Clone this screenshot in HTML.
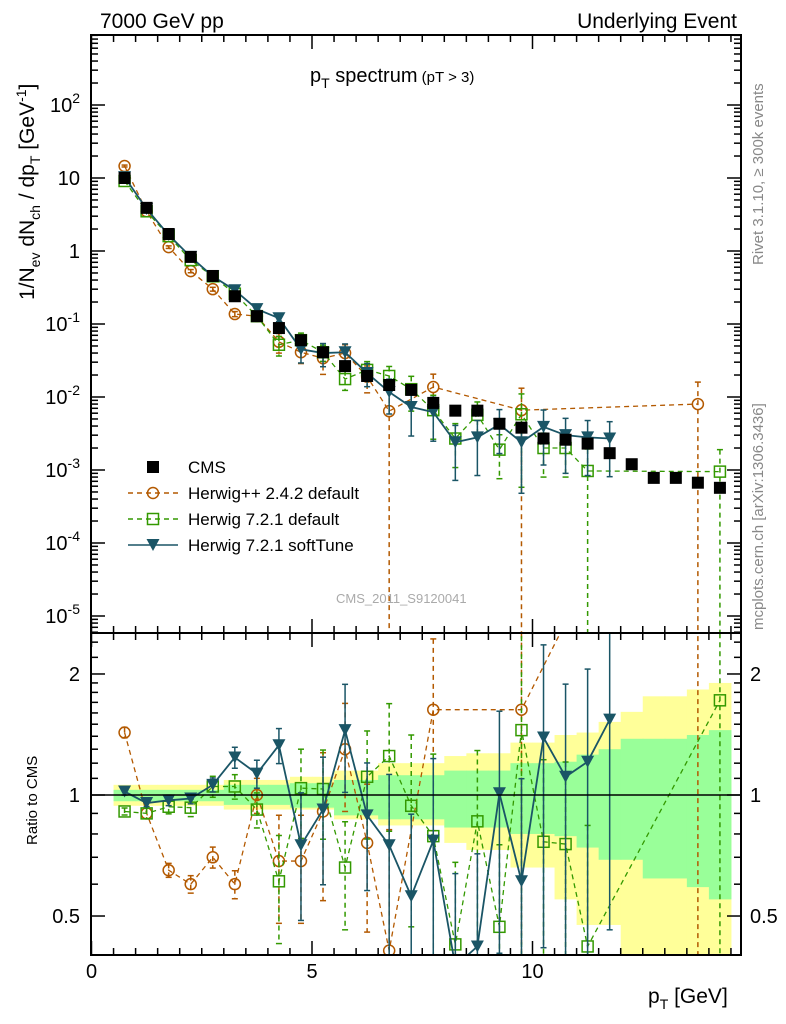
<!DOCTYPE html>
<html><head><meta charset="utf-8">
<style>
html,body{margin:0;padding:0;background:#fff;overflow:hidden;width:786px;height:1024px;}
svg{display:block;font-family:"Liberation Sans",sans-serif;}
</style></head>
<body>
<svg id="chart" width="786" height="1024" viewBox="0 0 786 1024" xmlns="http://www.w3.org/2000/svg" overflow="hidden">
<defs>
<clipPath id="clipMain"><rect x="91" y="35" width="650" height="598"/></clipPath>
<clipPath id="clipRatio"><rect x="91" y="633" width="650" height="322"/></clipPath>
</defs>
<g id="ratioBands" clip-path="url(#clipRatio)"></g>
<g id="marks"></g>
<rect x="91" y="35" width="650" height="598" fill="none" stroke="#000" stroke-width="2"/>
<rect x="91" y="633" width="650" height="322" fill="none" stroke="#000" stroke-width="2"/>
<g id="axes"></g>
<text x="100" y="28" font-size="21">7000 GeV pp</text>
<text x="737" y="28" font-size="21" text-anchor="end">Underlying Event</text>
<text x="310" y="82" font-size="20">p<tspan font-size="14" dy="6">T</tspan><tspan dy="-6"> spectrum</tspan><tspan font-size="15"> (pT &gt;  3)</tspan></text>
<text x="336" y="603" font-size="13" fill="#aaa">CMS_2011_S9120041</text>
<text transform="translate(763,265) rotate(-90)" font-size="15" fill="#888">Rivet 3.1.10, ≥ 300k events</text>
<text transform="translate(763,630) rotate(-90)" font-size="15" fill="#888">mcplots.cern.ch [arXiv:1306.3436]</text>
<text transform="translate(34,300) rotate(-90)" font-size="21">1/N<tspan font-size="14" dy="6">ev</tspan><tspan dy="-6"> dN</tspan><tspan font-size="14" dy="6">ch</tspan><tspan dy="-6"> / dp</tspan><tspan font-size="14" dy="6">T</tspan><tspan dy="-6"> [GeV</tspan><tspan font-size="14" dy="-8">-1</tspan><tspan dy="8">]</tspan></text>
<text transform="translate(37,845) rotate(-90)" font-size="15">Ratio to CMS</text>
<text x="648" y="1003" font-size="21">p<tspan font-size="14" dy="6">T</tspan><tspan dy="-6"> [GeV]</tspan></text>
<g id="legend"></g>
</svg>
<script>
const binCenters=[0.75,1.25,1.75,2.25,2.75,3.25,3.75,4.25,4.75,5.25,5.75,6.25,6.75,7.25,7.75,8.25,8.75,9.25,9.75,10.25,10.75,11.25,11.75,12.25,12.75,13.25,13.75,14.25];
const cmsValues=[10,3.9,1.71,0.83,0.455,0.24,0.128,0.088,0.06,0.041,0.0265,0.0194,0.0146,0.0125,0.0083,0.0065,0.0065,0.0043,0.0038,0.0027,0.0026,0.0023,0.0017,0.0012,0.00078,0.00078,0.00067,0.00057];
const hppValues=[14.6,3.5,1.13,0.53,0.30,0.137,0.128,0.057,0.041,0.034,0.04,0.019,0.0064,null,0.0137,null,null,null,0.0066,null,null,null,null,null,null,null,0.008,null];
const hppErr=[0.03,0.03,0.04,0.05,0.06,0.08,0.1,0.3,0.3,0.4,0.3,0.4,1,null,0.5,null,null,null,1,null,null,null,null,null,null,null,1,null];
const h72Values=[9.1,3.5,1.6,0.75,0.45,0.26,0.128,0.052,0.06,0.041,0.0176,0.0235,0.0194,0.0128,0.0066,0.0027,0.0057,0.0019,0.0058,0.002,0.002,0.00097,null,null,null,null,null,0.00095];
const h72Err=[0.02,0.03,0.04,0.05,0.06,0.07,0.1,0.3,0.25,0.25,0.3,0.3,0.35,0.5,0.6,0.6,0.5,0.6,0.9,0.6,0.6,1,null,null,null,null,null,1];
const softValues=[10.3,3.76,1.66,0.83,0.45,0.29,0.16,0.12,0.045,0.040,0.041,0.0213,0.0117,0.0073,0.0062,0.0024,0.0028,0.0042,0.0024,0.0039,0.003,0.0028,0.0027,null,null,null,null,null];
const softErr=[0.02,0.02,0.03,0.03,0.04,0.06,0.08,0.1,0.35,0.35,0.3,0.35,0.5,0.6,0.6,0.7,0.7,0.6,0.8,0.7,0.7,0.7,0.7,null,null,null,null,null];
const hppRatio=[1.43,0.90,0.65,0.60,0.70,0.60,1.0,0.685,0.685,0.91,1.30,0.76,0.41,null,1.63,null,null,null,1.63,null,null,null,null,null,null,null,12,null];
const h72Ratio=[0.91,0.90,0.935,0.93,1.05,1.05,0.92,0.61,1.04,1.035,0.66,1.11,1.25,0.94,0.79,0.425,0.86,0.47,1.45,0.765,0.755,0.42,null,null,null,null,null,1.72];
const softRatio=[1.02,0.955,0.97,0.98,1.06,1.24,1.13,1.33,0.75,0.92,1.45,0.89,0.75,0.56,0.77,0.375,0.42,1.01,0.61,1.39,1.11,1.21,1.54,null,null,null,null,null];
const yellowUp=[1.06,1.06,1.06,1.06,1.06,1.09,1.09,1.09,1.11,1.11,1.15,1.15,1.2,1.2,1.2,1.25,1.27,1.27,1.35,1.35,1.41,1.43,1.52,1.61,1.76,1.76,1.83,1.9];
const yellowLo=[0.94,0.94,0.94,0.94,0.94,0.92,0.92,0.92,0.92,0.92,0.87,0.87,0.84,0.84,0.84,0.76,0.73,0.73,0.66,0.66,0.55,0.475,0.475,0.3,0.3,0.3,0.3,0.3];
const greenUp=[1.03,1.03,1.03,1.03,1.03,1.06,1.06,1.06,1.07,1.07,1.09,1.09,1.12,1.12,1.12,1.15,1.15,1.15,1.2,1.2,1.21,1.26,1.30,1.38,1.38,1.38,1.41,1.45];
const greenLo=[0.965,0.965,0.965,0.965,0.965,0.945,0.945,0.945,0.93,0.93,0.89,0.89,0.87,0.87,0.87,0.83,0.83,0.83,0.8,0.8,0.79,0.74,0.69,0.69,0.62,0.62,0.59,0.55];
const xTickLabels=["0","5","10"];
const yTickLabels=["10^-5","10^-4","10^-3","10^-2","10^-1","1","10","10^2"];
const ratioTickLabels=["0.5","1","2"];

const NS="http://www.w3.org/2000/svg";
const X=g=>91.5+44.1*g;
const Y=v=>251-73*Math.log10(v);
const R=r=>795-402*Math.log10(r);
function mk(tag,attrs,parent){const e=document.createElementNS(NS,tag);for(const k in attrs)e.setAttribute(k,attrs[k]);parent.appendChild(e);return e;}
const marks=document.getElementById('marks');
const axes=document.getElementById('axes');
const bands=document.getElementById('ratioBands');
const gMain=mk('g',{'clip-path':'url(#clipMain)'},marks);


const gRat=mk('g',{'clip-path':'url(#clipRatio)'},marks);



binCenters.forEach((c,i)=>{
  const x0=X(c-0.25),w=X(c+0.25)-x0;
  const y1=mk('rect',{x:x0,y:R(yellowUp[i]),width:w+0.5,height:R(yellowLo[i])-R(yellowUp[i]),fill:'#ffff99'},bands);
  
  
});
binCenters.forEach((c,i)=>{
  const x0=X(c-0.25),w=X(c+0.25)-x0;
  const g1=mk('rect',{x:x0,y:R(greenUp[i]),width:w+0.5,height:R(greenLo[i])-R(greenUp[i]),fill:'#99ff99'},bands);
  
  
});
const one=mk('line',{x1:91,x2:741,y1:R(1),y2:R(1),stroke:'#000','stroke-width':1.5},marks);



function marker(type,x,y,color,parent){
  let e;
  if(type==='circle') e=mk('circle',{cx:x,cy:y,r:5.5,fill:'none',stroke:color,'stroke-width':1.5},parent);
  else if(type==='square') e=mk('rect',{x:x-5.5,y:y-5.5,width:11,height:11,fill:'none',stroke:color,'stroke-width':1.5},parent);
  else if(type==='tri') e=mk('path',{d:`M${x-6.5},${y-6} L${x+6.5},${y-6} L${x},${y+6} Z`,fill:color},parent);
  else e=mk('rect',{x:x-6,y:y-6,width:12,height:12,fill:'#000'},parent);
  return e;
}
function series(name,vals,errs,ymap,parent,color,type,dash,lo){
  const g=mk('g',{},parent);
  
  
  const pts=[];
  vals.forEach((v,i)=>{if(v!==null)pts.push([X(binCenters[i]),ymap(v),i]);});
  if(type!=='cms'){
    const pl=mk('polyline',{points:pts.map(p=>p[0]+','+p[1]).join(' '),fill:'none',stroke:color,'stroke-width':dash?1.3:1.8},g);
    if(dash)pl.setAttribute('stroke-dasharray','5,4');
  }
  pts.forEach(p=>{
    const i=p[2],v=vals[i],e=errs?errs[i]:0;
    if(e){
      const top=ymap(v*(1+e)),bot=e>=1?lo:ymap(v*(1-e));
      const l=mk('line',{x1:p[0],x2:p[0],y1:top,y2:bot,stroke:color,'stroke-width':1.5},g);
      if(dash)l.setAttribute('stroke-dasharray','5,4');
      mk('line',{x1:p[0]-3,x2:p[0]+3,y1:top,y2:top,stroke:color,'stroke-width':1.5},g);
      mk('line',{x1:p[0]-3,x2:p[0]+3,y1:bot,y2:bot,stroke:color,'stroke-width':1.5},g);
    }
    const m=marker(type,p[0],p[1],color,g);
    
    
  });
}
series('herwigpp-series',hppValues,hppErr,Y,gMain,'#b35900','circle',true,640);
series('herwig721-series',h72Values,h72Err,Y,gMain,'#339900','square',true,640);
series('softtune-series',softValues,softErr,Y,gMain,'#1a5566','tri',false,640);
series('cms-series',cmsValues,null,Y,gMain,'#000','cms',false,640);
series('herwigpp-ratio',hppRatio,hppErr,R,gRat,'#b35900','circle',true,960);
series('herwig721-ratio',h72Ratio,h72Err,R,gRat,'#339900','square',true,960);
series('softtune-ratio',softRatio,softErr,R,gRat,'#1a5566','tri',false,960);

for(let g=0;g<=14.6;g+=0.5){
  const major=Math.abs(g%5)<1e-6, len=major?14:7, x=X(g);
  [[35,1],[633,-1],[633,1],[955,-1]].forEach(([y0,d])=>{
    mk('line',{x1:x,x2:x,y1:y0,y2:y0+d*len,stroke:'#000','stroke-width':1.5},axes);
  });
}
xTickLabels.forEach((t,i)=>{
  const tx=mk('text',{x:X(i*5),y:978,'font-size':20,'text-anchor':'middle'},axes);
  tx.textContent=t;
  
  
});
for(let d=-6;d<=2;d++){
  for(let m=1;m<10;m++){
    const v=m*Math.pow(10,d),y=Y(v);
    if(y<35||y>633)continue;
    const len=m===1?14:7;
    mk('line',{x1:91,x2:91+len,y1:y,y2:y,stroke:'#000','stroke-width':1.5},axes);
    mk('line',{x1:741,x2:741-len,y1:y,y2:y,stroke:'#000','stroke-width':1.5},axes);
  }
}
yTickLabels.forEach((t,i)=>{
  const v=Math.pow(10,i-5),y=Y(v)+7;
  const tx=mk('text',{x:80,y:y,'font-size':20,'text-anchor':'end'},axes);
  
  
  const p=t.split('^');
  if(p.length===1)tx.textContent=t;
  else{const a=document.createElementNS(NS,'tspan');a.textContent=p[0];tx.appendChild(a);
    const b=document.createElementNS(NS,'tspan');b.setAttribute('dy','-9');b.setAttribute('font-size','14');b.textContent=p[1];tx.appendChild(b);}
});
const rMinor=[0.4,0.6,0.7,0.8,0.9,1.1,1.2,1.3,1.4,1.5,1.6,1.7,1.8,1.9,2.2,2.4];
rMinor.forEach(r=>{const y=R(r);
  mk('line',{x1:91,x2:98,y1:y,y2:y,stroke:'#000','stroke-width':1.5},axes);
  mk('line',{x1:741,x2:734,y1:y,y2:y,stroke:'#000','stroke-width':1.5},axes);});
ratioTickLabels.forEach(t=>{const y=R(parseFloat(t));
  mk('line',{x1:91,x2:105,y1:y,y2:y,stroke:'#000','stroke-width':1.5},axes);
  mk('line',{x1:741,x2:727,y1:y,y2:y,stroke:'#000','stroke-width':1.5},axes);
  const a=mk('text',{x:80,y:y+7,'font-size':20,'text-anchor':'end'},axes);a.textContent=t;
  
  
  const b=mk('text',{x:750,y:y+7,'font-size':20},axes);b.textContent=t;
  
  
});
const leg=document.getElementById('legend');
const entries=[['CMS','cms','#000',false],['Herwig++ 2.4.2 default','circle','#b35900',true],['Herwig 7.2.1 default','square','#339900',true],['Herwig 7.2.1 softTune','tri','#1a5566',false]];
entries.forEach((e,i)=>{
  const y=467+i*26;
  const g=mk('g',{},leg);
  
  
  if(e[1]!=='cms'){const l=mk('line',{x1:128,x2:178,y1:y,y2:y,stroke:e[2],'stroke-width':1.5},g);if(e[3])l.setAttribute('stroke-dasharray','5,4');}
  marker(e[1],153,y,e[2],g);
  const t=mk('text',{x:188,y:y+6,'font-size':17},g);t.textContent=e[0];
});
</script>
</body></html>
